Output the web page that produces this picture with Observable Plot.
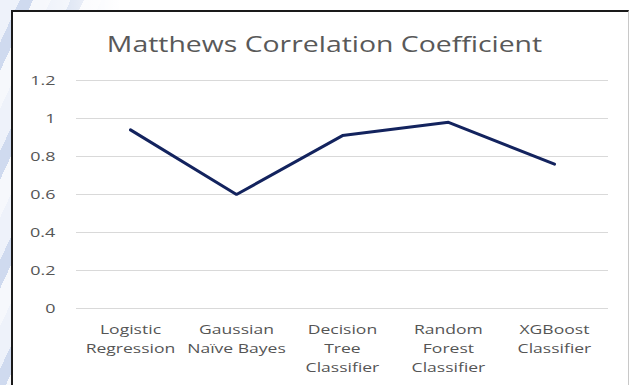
<!DOCTYPE html>
<html>
<head>
<meta charset="utf-8">
<script src="https://cdn.jsdelivr.net/npm/d3@7"></script>
<script src="https://cdn.jsdelivr.net/npm/@observablehq/plot@0.6"></script>
<style>
  html, body { margin: 0; padding: 0; background: #fff; }
  #wrap {
    position: relative; width: 633px; height: 385px; overflow: hidden;
    background:
      linear-gradient(90deg, rgba(255,255,255,0) 0px, rgba(255,255,255,0) 40px, #fff 120px),
      repeating-linear-gradient(115deg, #eef2fa 0px, #eef2fa 18px, #cfdaef 18px, #cfdaef 30px, #f6f8fc 30px, #f6f8fc 46px);
  }
  #card {
    position: absolute; left: 11px; top: 10px; width: 618px; height: 380px;
    background: #fff; border-top: 2px solid #1a1a1a; border-left: 2px solid #1a1a1a;
    border-right: 1px solid #c8c8c8; box-sizing: border-box;
  }
  #title {
    position: absolute; left: 8px; width: 633px; top: 28px; text-align: center;
    font-family: "Open Sans", sans-serif; font-size: 22px; color: #595959;
    transform: scaleX(1.29); transform-origin: 316.5px 0;
  }
  #chart { position: absolute; left: 0; top: 0; }
</style>
</head>
<body>
<div id="wrap">
  <div id="card"></div>
  <div id="title">Matthews Correlation Coefficient</div>
  <div id="chart"></div>
</div>
<script>
// Classifier names (line breaks as printed under the axis) and their MCC scores
const models = [
  "Logistic\nRegression",
  "Gaussian\nNaïve Bayes",
  "Decision\nTree\nClassifier",
  "Random\nForest\nClassifier",
  "XGBoost\nClassifier"
];
const mcc = [0.94, 0.60, 0.91, 0.98, 0.76];
const yTicks = [0, 0.2, 0.4, 0.6, 0.8, 1, 1.2];

const rows = models.map((m, i) => ({model: m, score: mcc[i]}));

const chart = Plot.plot({
  width: 633,
  height: 385,
  marginLeft: 76,
  marginRight: 25,
  marginTop: 80,
  marginBottom: 77,
  style: {background: "transparent", fontFamily: "'Open Sans', sans-serif", color: "#595959"},
  x: {domain: models, padding: 0.5, label: null},
  y: {domain: [0, 1.2], label: null},
  marks: [
    Plot.gridY(yTicks, {stroke: "#d9d9d9", strokeOpacity: 1, strokeWidth: 1}),
    Plot.axisY(yTicks, {tickSize: 0, tickPadding: 21, fontSize: 13, fill: "#555", tickFormat: d => String(d)}),
    Plot.axisX({tickSize: 0, tickPadding: 12, fontSize: 13.5, fill: "#555", lineHeight: 1.4}),
    Plot.line(rows, {x: "model", y: "score", stroke: "#13235e", strokeWidth: 3, strokeLinejoin: "miter"})
  ]
});

document.getElementById("chart").appendChild(chart);

// The axis lettering is set wide: stretch each label horizontally about its anchor point
const svgBox = chart.getBoundingClientRect();
chart.querySelectorAll("text").forEach(t => {
  const box = t.getBoundingClientRect();
  const isNumber = !isNaN(+t.textContent);
  const sx = isNumber ? 1.38 : 1.3;
  const anchorScreen = isNumber ? box.right : (box.left + box.right) / 2;
  const ctm = t.parentNode.getCTM();
  const ax = (anchorScreen - svgBox.left - (ctm ? ctm.e : 0)) / (ctm ? ctm.a : 1);
  const tr = t.getAttribute("transform") || "";
  t.setAttribute("transform", `translate(${ax},0) scale(${sx},1) translate(${-ax},0) ${tr}`);
});
</script>
</body>
</html>
